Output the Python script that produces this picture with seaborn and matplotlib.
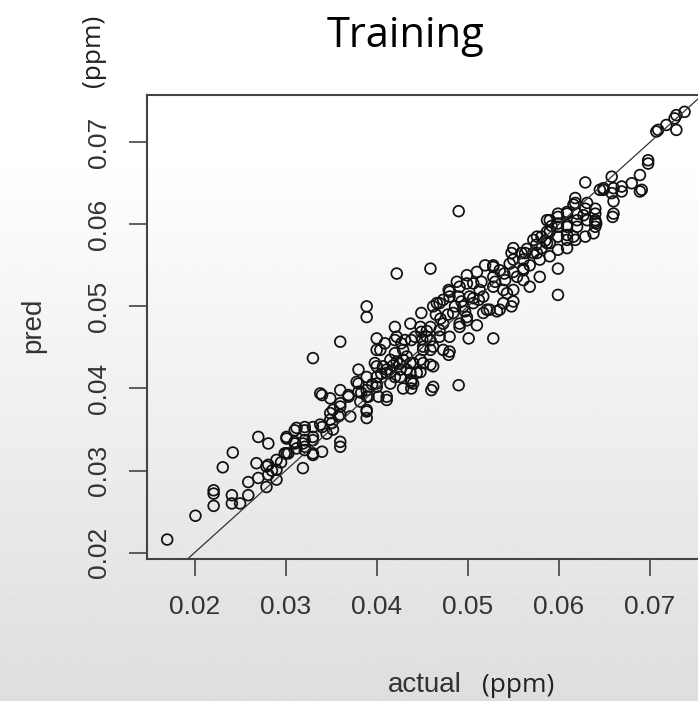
import numpy as np
import pandas as pd
import matplotlib
matplotlib.use('Agg')
import matplotlib.pyplot as plt
import seaborn as sns

# actual vs predicted (ppm)
actual = [
    0.0170, 0.0201, 0.0221, 0.0221, 0.0221, 0.0231, 0.0242, 0.0241, 0.0241, 0.0250,
    0.0259, 0.0259, 0.0268, 0.0270, 0.0281, 0.0270, 0.0279, 0.0281, 0.0279, 0.0290,
    0.0290, 0.0299, 0.0301, 0.0310, 0.0312, 0.0319, 0.0319, 0.0321, 0.0281, 0.0290,
    0.0301, 0.0310, 0.0321, 0.0330, 0.0330, 0.0330, 0.0340, 0.0340, 0.0340, 0.0349,
    0.0351, 0.0360, 0.0360, 0.0360, 0.0360, 0.0360, 0.0369, 0.0380, 0.0380, 0.0380,
    0.0389, 0.0389, 0.0389, 0.0389, 0.0389, 0.0400, 0.0400, 0.0400, 0.0400, 0.0402,
    0.0409, 0.0411, 0.0411, 0.0420, 0.0420, 0.0420, 0.0429, 0.0438, 0.0438, 0.0438,
    0.0449, 0.0449, 0.0451, 0.0460, 0.0466,
    0.0338, 0.0349, 0.0360, 0.0352, 0.0360, 0.0369, 0.0371, 0.0358, 0.0349, 0.0338,
    0.0330, 0.0321, 0.0310, 0.0301, 0.0321, 0.0330, 0.0312, 0.0303, 0.0321, 0.0330,
    0.0378, 0.0389, 0.0389, 0.0400, 0.0382, 0.0391, 0.0400, 0.0404, 0.0398, 0.0407,
    0.0411, 0.0415, 0.0411, 0.0422, 0.0426, 0.0427, 0.0422, 0.0433, 0.0433, 0.0440,
    0.0444, 0.0451, 0.0459, 0.0455, 0.0462, 0.0429, 0.0389,
    0.0422, 0.0459, 0.0528, 0.0501, 0.0490, 0.0479, 0.0488, 0.0499, 0.0510, 0.0519,
    0.0528, 0.0546, 0.0548, 0.0563, 0.0576, 0.0554, 0.0568, 0.0579, 0.0568, 0.0550,
    0.0550, 0.0539, 0.0532, 0.0528, 0.0517, 0.0506, 0.0495, 0.0484, 0.0473, 0.0499,
    0.0510, 0.0491, 0.0480, 0.0469, 0.0459, 0.0469, 0.0480, 0.0491, 0.0448, 0.0437,
    0.0420, 0.0429, 0.0442, 0.0451, 0.0462, 0.0473, 0.0479, 0.0459, 0.0448, 0.0437,
    0.0426, 0.0440, 0.0462, 0.0415, 0.0512, 0.0521, 0.0543, 0.0541, 0.0535, 0.0506,
    0.0629, 0.0599, 0.0599, 0.0658, 0.0649, 0.0658, 0.0669, 0.0660, 0.0660, 0.0659,
    0.0680, 0.0689, 0.0689, 0.0698, 0.0698, 0.0640, 0.0640, 0.0631, 0.0627, 0.0618,
    0.0620, 0.0620, 0.0618, 0.0609, 0.0609, 0.0609, 0.0609, 0.0599, 0.0599, 0.0599,
    0.0599, 0.0590, 0.0590, 0.0590, 0.0590, 0.0581, 0.0581, 0.0579, 0.0572, 0.0572,
    0.0561, 0.0561, 0.0559, 0.0641, 0.0707, 0.0709, 0.0718, 0.0729, 0.0727, 0.0729,
    0.0738, 0.0691, 0.0669, 0.0649, 0.0660, 0.0618, 0.0490, 0.0550, 0.0550, 0.0550,
    0.0528, 0.0528, 0.0499, 0.0490, 0.0480, 0.0473, 0.0462, 0.0506, 0.0513, 0.0539,
    0.0561, 0.0561, 0.0576, 0.0587, 0.0587, 0.0599, 0.0599, 0.0609, 0.0609, 0.0616,
    0.0620, 0.0629, 0.0631, 0.0640, 0.0640, 0.0640, 0.0638, 0.0629, 0.0616, 0.0609,
    0.0587, 0.0645,
    0.0480, 0.0448, 0.0438, 0.0548, 0.0535, 0.0524, 0.0517, 0.0499, 0.0491, 0.0469,
    0.0459, 0.0431, 0.0437,
    0.0415, 0.0418, 0.0405, 0.0425, 0.0493, 0.0502, 0.0486, 0.0497, 0.0575, 0.0585,
    0.0592, 0.0565, 0.0345, 0.0352, 0.0285, 0.0295, 0.0530, 0.0540, 0.0515, 0.0450,
    0.0455, 0.0470, 0.0478, 0.0465, 0.0383, 0.0395,
]
pred = [
    0.0216, 0.0245, 0.0276, 0.0272, 0.0257, 0.0304, 0.0322, 0.0270, 0.0260, 0.0260,
    0.0270, 0.0286, 0.0309, 0.0341, 0.0333, 0.0291, 0.0305, 0.0295, 0.0280, 0.0313,
    0.0289, 0.0321, 0.0339, 0.0333, 0.0352, 0.0333, 0.0303, 0.0353, 0.0307, 0.0301,
    0.0321, 0.0335, 0.0329, 0.0437, 0.0337, 0.0319, 0.0353, 0.0392, 0.0323, 0.0370,
    0.0358, 0.0457, 0.0382, 0.0335, 0.0329, 0.0368, 0.0390, 0.0423, 0.0406, 0.0396,
    0.0500, 0.0487, 0.0390, 0.0364, 0.0374, 0.0461, 0.0447, 0.0427, 0.0406, 0.0390,
    0.0455, 0.0423, 0.0386, 0.0475, 0.0443, 0.0414, 0.0435, 0.0459, 0.0410, 0.0400,
    0.0492, 0.0469, 0.0447, 0.0398, 0.0504,
    0.0394, 0.0388, 0.0398, 0.0374, 0.0378, 0.0392, 0.0366, 0.0366, 0.0362, 0.0356,
    0.0353, 0.0349, 0.0349, 0.0341, 0.0337, 0.0341, 0.0327, 0.0321, 0.0325, 0.0321,
    0.0408, 0.0414, 0.0398, 0.0402, 0.0384, 0.0390, 0.0414, 0.0447, 0.0431, 0.0427,
    0.0419, 0.0406, 0.0390, 0.0433, 0.0423, 0.0455, 0.0463, 0.0439, 0.0423, 0.0431,
    0.0419, 0.0431, 0.0447, 0.0463, 0.0427, 0.0400, 0.0372,
    0.0540, 0.0546, 0.0461, 0.0461, 0.0404, 0.0520, 0.0530, 0.0538, 0.0542, 0.0550,
    0.0550, 0.0552, 0.0565, 0.0565, 0.0565, 0.0536, 0.0550, 0.0536, 0.0524, 0.0520,
    0.0506, 0.0504, 0.0494, 0.0524, 0.0512, 0.0504, 0.0500, 0.0492, 0.0479, 0.0487,
    0.0477, 0.0475, 0.0463, 0.0463, 0.0475, 0.0504, 0.0512, 0.0524, 0.0475, 0.0479,
    0.0459, 0.0447, 0.0463, 0.0451, 0.0451, 0.0447, 0.0441, 0.0429, 0.0435, 0.0431,
    0.0414, 0.0406, 0.0402, 0.0435, 0.0508, 0.0496, 0.0516, 0.0532, 0.0544, 0.0528,
    0.0651, 0.0514, 0.0546, 0.0658, 0.0642, 0.0638, 0.0640, 0.0628, 0.0613, 0.0609,
    0.0650, 0.0660, 0.0640, 0.0674, 0.0678, 0.0619, 0.0603, 0.0626, 0.0611, 0.0626,
    0.0613, 0.0597, 0.0581, 0.0615, 0.0599, 0.0587, 0.0571, 0.0613, 0.0601, 0.0585,
    0.0569, 0.0605, 0.0591, 0.0577, 0.0561, 0.0585, 0.0571, 0.0557, 0.0581, 0.0565,
    0.0544, 0.0532, 0.0565, 0.0601, 0.0713, 0.0715, 0.0721, 0.0715, 0.0729, 0.0733,
    0.0737, 0.0642, 0.0646, 0.0644, 0.0644, 0.0632, 0.0616, 0.0571, 0.0557, 0.0542,
    0.0548, 0.0536, 0.0528, 0.0512, 0.0518, 0.0508, 0.0500, 0.0510, 0.0520, 0.0520,
    0.0546, 0.0557, 0.0585, 0.0591, 0.0605, 0.0609, 0.0597, 0.0613, 0.0597, 0.0624,
    0.0605, 0.0619, 0.0605, 0.0597, 0.0605, 0.0613, 0.0589, 0.0585, 0.0585, 0.0581,
    0.0577, 0.0642,
    0.0445, 0.0420, 0.0408, 0.0500, 0.0496, 0.0496, 0.0492, 0.0483, 0.0479, 0.0471,
    0.0459, 0.0459, 0.0419,
    0.0420, 0.0428, 0.0418, 0.0430, 0.0506, 0.0512, 0.0500, 0.0494, 0.0575, 0.0580,
    0.0598, 0.0570, 0.0345, 0.0350, 0.0300, 0.0310, 0.0530, 0.0540, 0.0530, 0.0460,
    0.0470, 0.0485, 0.0490, 0.0490, 0.0395, 0.0405,
]
ticks = [0.02, 0.03, 0.04, 0.05, 0.06, 0.07]
tick_labels = ['0.02', '0.03', '0.04', '0.05', '0.06', '0.07']

sns.set_style('ticks')
plt.rcParams['font.family'] = ['Liberation Sans', 'DejaVu Sans']

W, H = 698, 701
fig = plt.figure(figsize=(W / 100, H / 100), dpi=100)

# slide background: white fading to light grey at the bottom
bg = fig.add_axes([0, 0, 1, 1], zorder=0)
rows = np.linspace(0, H, 400)
shade = 1 - 0.13 * np.clip((rows - 150) / (H - 150), 0, 1)
bg.imshow(shade[:, None], cmap='gray', vmin=0, vmax=1, aspect='auto', extent=[0, 1, 0, 1])
bg.axis('off')

# plot box (runs off the right edge like the cropped original)
left, right, top, bottom = 146.7, 721, 95, 559
ax = fig.add_axes([left / W, 1 - bottom / H, (right - left) / W, (bottom - top) / H], zorder=1)
ax.patch.set_visible(False)

df = pd.DataFrame({'actual': actual, 'pred': pred})
sns.scatterplot(data=df, x='actual', y='pred', ax=ax, s=60, marker='o')
pts = ax.collections[0]
pts.set_facecolor('none')
pts.set_edgecolor('#111111')
pts.set_linewidth(1.25)

ax.axline((0.02, 0.02), slope=1, color='#333333', lw=0.9)

ax.set_xlim(0.01475, 0.0778)
ax.set_ylim(0.01923, 0.07575)
ax.set_xticks(ticks, labels=tick_labels)
ax.set_yticks(ticks, labels=tick_labels)
ax.set_xlabel('')
ax.set_ylabel('')
ax.tick_params(direction='out', width=1.2, color='#444444', labelsize=19, labelcolor='#333333')
ax.tick_params(axis='x', length=12, pad=14)
ax.tick_params(axis='y', length=13, pad=13)
plt.setp(ax.get_yticklabels(), rotation=90, va='center')
for sp in ax.spines.values():
    sp.set_color('#444444')
    sp.set_linewidth(1.5)

# titles and axis labels
fig.text(406 / W, 1 - 47 / H, 'Training', ha='center', va='baseline',
         fontsize=30, family='Open Sans', color='black')
fig.text(93 / W, 1 - 51 / H, '(ppm)', ha='center', va='center', rotation=90,
         fontsize=19, family='Open Sans', color='#222222')
fig.text(33 / W, 1 - 325 / H, 'pred', ha='center', va='center', rotation=90,
         fontsize=20, color='#333333')
fig.text(425 / W, 1 - 685 / H, 'actual', ha='center', va='center',
         fontsize=20, color='#333333')
fig.text(518 / W, 1 - 685 / H, '(ppm)', ha='center', va='center',
         fontsize=19, family='Open Sans', color='#222222')

fig.savefig('out.png', dpi=100)
